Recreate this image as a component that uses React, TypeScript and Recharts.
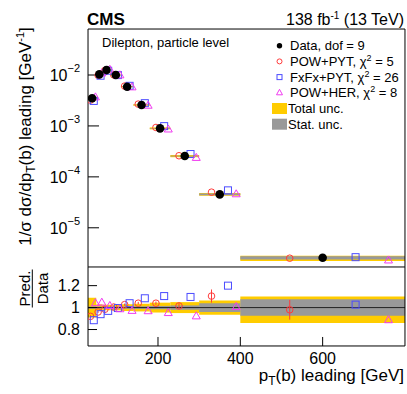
import { ComposedChart, Scatter, XAxis, YAxis, ReferenceArea, ReferenceLine, ErrorBar } from "recharts";

const FONT = "'Liberation Sans', Arial, Helvetica, sans-serif";
const RED = "#ff3b3b";
const BLUE = "#4b4bff";
const MAGENTA = "#f03cf0";
const YELLOW = "#ffcc00";
const GREY = "#999999";
// axes take (almost) no room: all space is set by the chart margins
const AX = 0.01;

// bins in pT(b) leading [GeV]
const binEdges = [30, 50, 65, 85, 110, 140, 180, 230, 300, 400, 800];
// normalised cross section, data
const dataValues = [3.5e-3, 1.03e-2, 1.25e-2, 1.0e-2, 5.9e-3, 2.58e-3, 8.97e-4, 2.56e-4, 4.53e-5, 2.58e-6];
// prediction / data
const ratioPowPyt = [0.92, 0.96, 0.985, 1.005, 1.027, 1.04, 1.04, 1.015, 1.105, 0.98];
const ratioFxFx = [0.885, 0.94, 0.97, 0.996, 1.04, 1.085, 1.105, 1.097, 1.2, 1.027];
const ratioPowHer = [1.04, 1.045, 1.015, 0.985, 0.97, 0.967, 0.95, 0.92, 1.005, 0.885];
const errPowPyt = [0.01, 0.008, 0.008, 0.008, 0.01, 0.012, 0.015, 0.025, 0.06, 0.09];
// relative uncertainties of the data
const statUnc = [0.01, 0.008, 0.008, 0.008, 0.01, 0.012, 0.015, 0.02, 0.04, 0.075];
const totalUncUp = [0.09, 0.03, 0.025, 0.025, 0.03, 0.035, 0.045, 0.05, 0.065, 0.1];
const totalUncDown = [0.09, 0.03, 0.025, 0.025, 0.03, 0.035, 0.045, 0.05, 0.065, 0.14];

const xMajorTicks = [200, 400, 600];
const xMinorTicks = [50, 100, 150, 250, 300, 350, 450, 500, 550, 650, 700, 750];
const yDecadeTicks = [1e-5, 1e-4, 1e-3, 1e-2];
const ratioMajorTicks = [0.8, 1, 1.2];
const ratioMinorTicks = [0.7, 0.9, 1.1, 1.3];

const X_DOMAIN: [number, number] = [30, 800];
const Y_DOMAIN: [number, number] = [1.7e-6, 0.08];
const R_DOMAIN: [number, number] = [0.65, 1.37];

const yMinorTicks = [-6, -5, -4, -3, -2]
  .flatMap((e) => [2, 3, 4, 5, 6, 7, 8, 9].map((m) => m * Math.pow(10, e)))
  .filter((v) => v > Y_DOMAIN[0] && v < Y_DOMAIN[1]);

const bins = dataValues.map((v, i) => {
  const lo = binEdges[i];
  const hi = binEdges[i + 1];
  return { lo, hi, w: hi - lo, c: (lo + hi) / 2, v };
});

// marker offsets inside a bin, as fraction of the bin width
const points = (ratios: number[] | null, off: number, errs?: number[]) =>
  bins.map((b, i) => ({
    x: b.c + off * b.w,
    y: ratios ? b.v * ratios[i] : b.v,
    r: ratios ? ratios[i] : 1,
    err: errs ? errs[i] : 0,
  }));

const dataPts = points(null, 0);
const powPytPts = points(ratioPowPyt, -0.2, errPowPyt);
const fxfxPts = points(ratioFxFx, 0.2);
const powHerPts = points(ratioPowHer, 0.4);
const ratioPts = (pts: { x: number; r: number; err: number }[]) => pts.map((p) => ({ x: p.x, y: p.r, err: p.err }));

const DataDot = (p: any) => <circle cx={p.cx} cy={p.cy} r={4.3} fill="#000" />;
const RedCircle = (p: any) => <circle cx={p.cx} cy={p.cy} r={3.3} fill="none" stroke={RED} strokeWidth={1} />;
const BlueSquare = (p: any) => (
  <rect x={p.cx - 3.5} y={p.cy - 3.5} width={7} height={7} fill="none" stroke={BLUE} strokeWidth={1} />
);
const MagTriangle = (p: any) => (
  <polygon
    points={`${p.cx},${p.cy - 4.5} ${p.cx - 4},${p.cy + 2.5} ${p.cx + 4},${p.cy + 2.5}`}
    fill="none"
    stroke={MAGENTA}
    strokeWidth={1}
  />
);

const DecadeTick = (props: any) => {
  const { x, y, payload } = props;
  const exp = Math.round(Math.log10(payload.value));
  return (
    <text x={x} y={y + 6} textAnchor="end" fontFamily={FONT} fontSize={16} fill="#000">
      10<tspan dy={-9} fontSize={11}>{`\u2212${-exp}`}</tspan>
    </text>
  );
};

const tickStyle = { fontSize: 16, fill: "#000", fontFamily: FONT };
const black = { stroke: "#000", strokeWidth: 1 };

const legendRows = [
  { label: "Data, dof = 9", chi: null, kind: "data" },
  { label: "POW+PYT, \u03c7", chi: " = 5", kind: "powpyt" },
  { label: "FxFx+PYT, \u03c7", chi: " = 26", kind: "fxfx" },
  { label: "POW+HER, \u03c7", chi: " = 8", kind: "powher" },
  { label: "Total unc.", chi: null, kind: "total" },
  { label: "Stat. unc.", chi: null, kind: "stat" },
];

function LegendMarker({ kind, x, y }: { kind: string; x: number; y: number }) {
  if (kind === "data") return <circle cx={x} cy={y} r={2.7} fill="#000" />;
  if (kind === "powpyt") return <circle cx={x} cy={y} r={2.5} fill="none" stroke={RED} />;
  if (kind === "fxfx") return <rect x={x - 2.5} y={y - 2.5} width={5} height={5} fill="none" stroke={BLUE} />;
  if (kind === "powher")
    return <polygon points={`${x},${y - 3.5} ${x - 3},${y + 2} ${x + 3},${y + 2}`} fill="none" stroke={MAGENTA} />;
  return <rect x={x - 7.5} y={y - 5.5} width={15} height={11} fill={kind === "total" ? YELLOW : GREY} />;
}

function Overlay() {
  return (
    <svg width={407} height={394} style={{ position: "absolute", left: 0, top: 0, pointerEvents: "none" }}>
      <g fontFamily={FONT} fill="#000">
        <text x={87} y={25} fontSize={17} fontWeight="bold">CMS</text>
        <text x={404} y={25} fontSize={16} textAnchor="end">
          138 fb<tspan dy={-6} fontSize={10}>-1</tspan>
          <tspan dy={6}> (13 TeV)</tspan>
        </text>
        <text x={102} y={47} fontSize={13}>Dilepton, particle level</text>
        {legendRows.map((row, i) => {
          const y = 45.7 + i * 15.7;
          return (
            <g key={row.label}>
              <LegendMarker kind={row.kind} x={279.5} y={y} />
              <text x={row.kind === "total" || row.kind === "stat" ? 288 : 290} y={y + 4.5} fontSize={13}>
                {row.label}
                {row.chi && (
                  <>
                    <tspan dy={-5} fontSize={9}>2</tspan>
                    <tspan dy={5}>{row.chi}</tspan>
                  </>
                )}
              </text>
            </g>
          );
        })}
        <text transform="translate(31,136.5) rotate(-90)" textAnchor="middle" fontSize={17}>
          1/{"\u03c3"} d{"\u03c3"}/dp<tspan dy={4} fontSize={12}>T</tspan>
          <tspan dy={-4}>(b) leading [GeV</tspan>
          <tspan dy={-7} fontSize={11}>-1</tspan>
          <tspan dy={7}>]</tspan>
        </text>
        <g transform="translate(32.3,288.5) rotate(-90)">
          <text x={0} y={-2.5} textAnchor="middle" fontSize={15}>Pred.</text>
          <line x1={-19} x2={19} y1={0} y2={0} stroke="#000" strokeWidth={1} />
          <text x={0} y={15.5} textAnchor="middle" fontSize={15}>Data</text>
        </g>
        <text x={404} y={381} textAnchor="end" fontSize={17}>
          p<tspan dy={4} fontSize={12}>T</tspan>
          <tspan dy={-4}>(b) leading [GeV]</tspan>
        </text>
      </g>
    </svg>
  );
}

function TopPanel() {
  return (
    <ComposedChart width={407} height={270} margin={{ top: 29, right: 2, bottom: 3, left: 88 }}>
      <XAxis xAxisId="b" type="number" dataKey="x" domain={X_DOMAIN} allowDataOverflow ticks={xMajorTicks}
        orientation="bottom" height={AX} tick={false} tickSize={-9} axisLine={black} tickLine={black} interval={0} />
      <XAxis xAxisId="bm" type="number" domain={X_DOMAIN} allowDataOverflow ticks={xMinorTicks}
        orientation="bottom" height={AX} tick={false} tickSize={-5} axisLine={false} tickLine={black} interval={0} />
      <XAxis xAxisId="t" type="number" domain={X_DOMAIN} allowDataOverflow ticks={xMajorTicks}
        orientation="top" height={AX} tick={false} tickSize={-8} axisLine={black} tickLine={black} interval={0} />
      <XAxis xAxisId="tm" type="number" domain={X_DOMAIN} allowDataOverflow ticks={xMinorTicks}
        orientation="top" height={AX} tick={false} tickSize={-5} axisLine={false} tickLine={black} interval={0} />
      <YAxis yAxisId="l" type="number" dataKey="y" scale="log" domain={Y_DOMAIN} allowDataOverflow
        ticks={yDecadeTicks} width={AX} tick={<DecadeTick />} tickSize={-11} tickMargin={19}
        axisLine={black} tickLine={black} interval={0} />
      <YAxis yAxisId="lm" type="number" scale="log" domain={Y_DOMAIN} allowDataOverflow ticks={yMinorTicks}
        width={AX} tick={false} tickSize={-6} axisLine={false} tickLine={black} interval={0} />
      <YAxis yAxisId="r" orientation="right" type="number" scale="log" domain={Y_DOMAIN} allowDataOverflow
        ticks={yDecadeTicks} width={AX} tick={false} tickSize={-11} axisLine={black} tickLine={black} interval={0} />
      <YAxis yAxisId="rm" orientation="right" type="number" scale="log" domain={Y_DOMAIN} allowDataOverflow
        ticks={yMinorTicks} width={AX} tick={false} tickSize={-6} axisLine={false} tickLine={black} interval={0} />

      {bins.map((b, i) => (
        <ReferenceArea key={`tot${i}`} xAxisId="b" yAxisId="l" x1={b.lo} x2={b.hi}
          y1={b.v * (1 - totalUncDown[i])} y2={b.v * (1 + totalUncUp[i])}
          fill={YELLOW} fillOpacity={1} stroke="none" ifOverflow="hidden" />
      ))}
      {bins.map((b, i) => (
        <ReferenceArea key={`stat${i}`} xAxisId="b" yAxisId="l" x1={b.lo} x2={b.hi}
          y1={b.v * (1 - statUnc[i])} y2={b.v * (1 + statUnc[i])}
          fill={GREY} fillOpacity={1} stroke="none" ifOverflow="hidden" />
      ))}

      <Scatter xAxisId="b" yAxisId="l" data={powPytPts} dataKey="y" shape={RedCircle} isAnimationActive={false} />
      <Scatter xAxisId="b" yAxisId="l" data={fxfxPts} dataKey="y" shape={BlueSquare} isAnimationActive={false} />
      <Scatter xAxisId="b" yAxisId="l" data={powHerPts} dataKey="y" shape={MagTriangle} isAnimationActive={false} />
      <Scatter xAxisId="b" yAxisId="l" data={dataPts} dataKey="y" shape={DataDot} isAnimationActive={false} />
    </ComposedChart>
  );
}

function RatioPanel() {
  return (
    <ComposedChart width={407} height={127} margin={{ top: 0, right: 2, bottom: 48, left: 88 }}>
      <XAxis xAxisId="b" type="number" dataKey="x" domain={X_DOMAIN} allowDataOverflow ticks={xMajorTicks}
        orientation="bottom" height={AX} tick={tickStyle} tickSize={-9} tickMargin={16}
        axisLine={black} tickLine={black} interval={0} />
      <XAxis xAxisId="bm" type="number" domain={X_DOMAIN} allowDataOverflow ticks={xMinorTicks}
        orientation="bottom" height={AX} tick={false} tickSize={-5} axisLine={false} tickLine={black} interval={0} />
      <XAxis xAxisId="t" type="number" domain={X_DOMAIN} allowDataOverflow ticks={xMajorTicks}
        orientation="top" height={AX} tick={false} tickSize={-4} axisLine={false} tickLine={black} interval={0} />
      <YAxis yAxisId="l" type="number" dataKey="y" domain={R_DOMAIN} allowDataOverflow ticks={ratioMajorTicks}
        width={AX} tick={tickStyle} tickSize={-9} tickMargin={17} axisLine={black} tickLine={black}
        tickFormatter={(v: number) => String(v)} interval={0} />
      <YAxis yAxisId="lm" type="number" domain={R_DOMAIN} allowDataOverflow ticks={ratioMinorTicks}
        width={AX} tick={false} tickSize={-5} axisLine={false} tickLine={black} interval={0} />
      <YAxis yAxisId="r" orientation="right" type="number" domain={R_DOMAIN} allowDataOverflow
        ticks={ratioMajorTicks} width={AX} tick={false} tickSize={-7} axisLine={black} tickLine={black} interval={0} />
      <YAxis yAxisId="rm" orientation="right" type="number" domain={R_DOMAIN} allowDataOverflow
        ticks={ratioMinorTicks} width={AX} tick={false} tickSize={-4} axisLine={false} tickLine={black} interval={0} />

      {bins.map((b, i) => (
        <ReferenceArea key={`rtot${i}`} xAxisId="b" yAxisId="l" x1={b.lo} x2={b.hi}
          y1={1 - totalUncDown[i]} y2={1 + totalUncUp[i]}
          fill={YELLOW} fillOpacity={1} stroke="none" ifOverflow="hidden" />
      ))}
      {bins.map((b, i) => (
        <ReferenceArea key={`rstat${i}`} xAxisId="b" yAxisId="l" x1={b.lo} x2={b.hi}
          y1={1 - statUnc[i]} y2={1 + statUnc[i]}
          fill={GREY} fillOpacity={1} stroke="none" ifOverflow="hidden" />
      ))}
      <ReferenceLine xAxisId="b" yAxisId="l" y={1} stroke="#222" strokeWidth={1} />

      <Scatter xAxisId="b" yAxisId="l" data={ratioPts(powPytPts)} dataKey="y" shape={RedCircle} isAnimationActive={false}>
        <ErrorBar dataKey="err" direction="y" width={0} stroke={RED} strokeWidth={1} isAnimationActive={false} />
      </Scatter>
      <Scatter xAxisId="b" yAxisId="l" data={ratioPts(fxfxPts)} dataKey="y" shape={BlueSquare} isAnimationActive={false} />
      <Scatter xAxisId="b" yAxisId="l" data={ratioPts(powHerPts)} dataKey="y" shape={MagTriangle} isAnimationActive={false} />
    </ComposedChart>
  );
}

export default function App() {
  return (
    <div style={{ position: "absolute", left: 0, top: 0, width: 407, height: 394, background: "#fff" }}>
      <div style={{ position: "absolute", left: 0, top: 0 }}>
        <TopPanel />
      </div>
      <div style={{ position: "absolute", left: 0, top: 267 }}>
        <RatioPanel />
      </div>
      <Overlay />
    </div>
  );
}
